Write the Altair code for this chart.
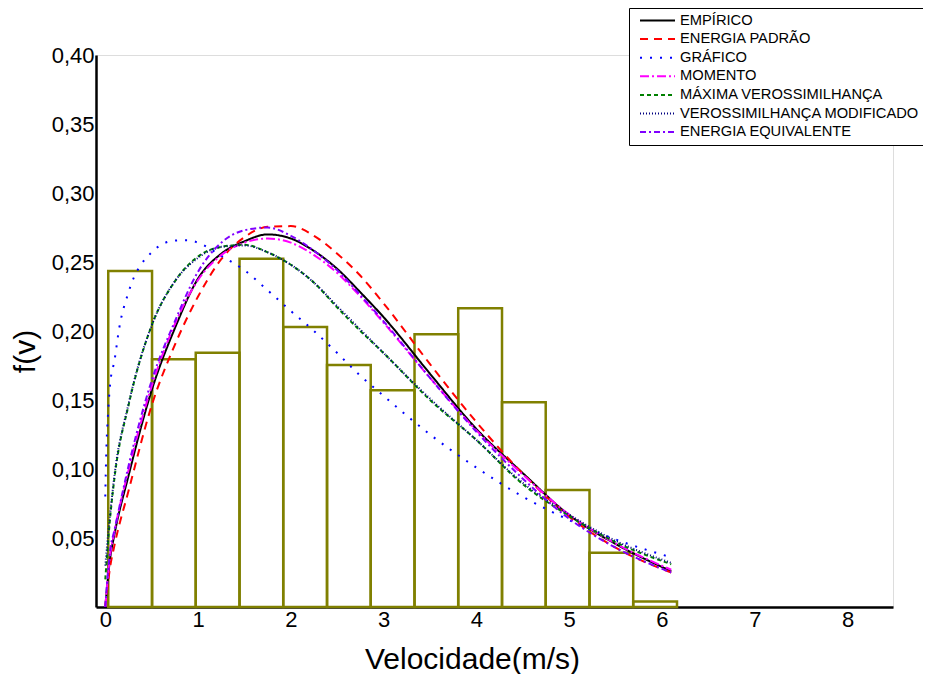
import altair as alt
import pandas as pd

# ---- data ----
names = ["EMPÍRICO", "ENERGIA PADRÃO", "GRÁFICO", "MOMENTO",
         "MÁXIMA VEROSSIMILHANÇA", "VEROSSIMILHANÇA MODIFICADO", "ENERGIA EQUIVALENTE"]
colors = ["#000000", "#FF0000", "#0000FF", "#FF00FF", "#008000", "#000080", "#8000FF"]
dashes = [[1, 0], [8, 6], [2, 8], [9, 3, 2, 3], [4, 3], [1, 2], [6, 3, 2, 3]]

grid_v = [0.0, 0.05, 0.1, 0.25, 0.5, 0.75, 1.0, 1.25, 1.5, 1.75, 2.0, 2.25, 2.5,
          2.75, 3.0, 3.5, 4.0, 4.5, 5.0, 5.5, 6.1]
empirico = [0.0, 0.034, 0.053, 0.095, 0.157, 0.202, 0.238, 0.256, 0.265, 0.270, 0.267,
            0.258, 0.245, 0.228, 0.210, 0.169, 0.129, 0.097, 0.0666, 0.0457, 0.026]
energia_padrao = [0.0, 0.028, 0.045, 0.084, 0.146, 0.190, 0.225, 0.252, 0.268, 0.2755, 0.276,
                  0.269, 0.256, 0.240, 0.220, 0.176, 0.134, 0.0966, 0.0655, 0.043, 0.025]
momento = [0.0, 0.036, 0.055, 0.099, 0.160, 0.205, 0.237, 0.255, 0.264, 0.267, 0.264,
           0.255, 0.242, 0.225, 0.206, 0.166, 0.128, 0.096, 0.067, 0.046, 0.027]
maxima_veros = [0.02, 0.063, 0.094, 0.146, 0.204, 0.236, 0.254, 0.261, 0.2625, 0.257, 0.248,
                0.235, 0.217, 0.200, 0.184, 0.150, 0.121, 0.089, 0.066, 0.047, 0.031]
veros_modificado = [0.03, 0.066, 0.096, 0.147, 0.204, 0.236, 0.253, 0.261, 0.262, 0.257, 0.248,
                    0.235, 0.218, 0.201, 0.184, 0.151, 0.121, 0.090, 0.067, 0.048, 0.032]
energia_equiv = [0.0, 0.040, 0.056, 0.102, 0.164, 0.207, 0.243, 0.264, 0.273, 0.275, 0.269,
                 0.258, 0.244, 0.226, 0.207, 0.166, 0.127, 0.093, 0.064, 0.043, 0.025]

grafico_v = [0.0, 0.01, 0.03, 0.05, 0.1, 0.15, 0.25, 0.5, 0.75, 0.9, 1.0, 1.25, 1.5, 1.75,
             2.0, 2.25, 2.5, 2.75, 3.0, 3.5, 4.0, 4.5, 5.0, 5.5, 6.1]
grafico = [0.08, 0.11, 0.14, 0.16, 0.179, 0.202, 0.228, 0.257, 0.2655, 0.2658, 0.264, 0.2545,
           0.244, 0.2295, 0.2145, 0.200, 0.184, 0.1675, 0.153, 0.125, 0.101, 0.080, 0.063,
           0.049, 0.036]

bin_left = [0.032, 0.504, 0.975, 1.447, 1.918, 2.390, 2.861, 3.333, 3.804, 4.276, 4.747,
            5.219, 5.690]
bin_right = [0.504, 0.975, 1.447, 1.918, 2.390, 2.861, 3.333, 3.804, 4.276, 4.747, 5.219,
             5.690, 6.162]
freq = [0.2435, 0.1795, 0.1843, 0.2524, 0.2029, 0.1754, 0.157, 0.1976, 0.2164, 0.1483,
        0.0848, 0.0394, 0.0039]

x_ticks = [0, 1, 2, 3, 4, 5, 6, 7, 8]
y_ticks = [0.05, 0.10, 0.15, 0.20, 0.25, 0.30, 0.35, 0.40]

# ---- tables ----
series = [
    (names[0], grid_v, empirico),
    (names[1], grid_v, energia_padrao),
    (names[2], grafico_v, grafico),
    (names[3], grid_v, momento),
    (names[4], grid_v, maxima_veros),
    (names[5], grid_v, veros_modificado),
    (names[6], grid_v, energia_equiv),
]
rows = []
for name, xs, ys in series:
    for xv, yv in zip(xs, ys):
        rows.append({"serie": name, "v": xv, "f": yv})
curves = pd.DataFrame(rows)
hist = pd.DataFrame({"x0": bin_left, "x1": bin_right, "h": freq})

FONT = "Liberation Sans"
xscale = alt.Scale(domain=[-0.1, 8.49], nice=False, zero=False)
yscale = alt.Scale(domain=[0, 0.40], nice=False)

xaxis = alt.Axis(title="Velocidade(m/s)", values=x_ticks, format="d", grid=False, ticks=False,
                 domainColor="black", domainWidth=2.5, labelFontSize=22, labelFont=FONT,
                 labelColor="black", labelPadding=2, labelFlush=False,
                 titleFontSize=30, titleFont=FONT, titleFontWeight="normal", titleColor="black",
                 titleX=376, titleY=61, titleBaseline="alphabetic")
yaxis = alt.Axis(title="f(v)", values=y_ticks,
                 labelExpr="replace(format(datum.value, '.2f'), '.', ',')",
                 grid=False, ticks=False, domainColor="black", domainWidth=2.5,
                 labelFontSize=22, labelFont=FONT, labelColor="black", labelPadding=2,
                 labelFlush=False,
                 titleFontSize=30, titleFont=FONT, titleFontWeight="normal", titleColor="black",
                 titleX=-62, titleY=296, titleBaseline="alphabetic", titleAngle=270)

legend = alt.Legend(title=None, orient="none", legendX=533, legendY=-47,
                    strokeColor="black", fillColor="white", padding=4,
                    symbolType="stroke", symbolSize=1225, symbolStrokeWidth=2,
                    symbolOffset=6, clipHeight=17, rowPadding=1.6,
                    labelFont=FONT, labelFontSize=14.7, labelColor="black",
                    labelOffset=4, labelLimit=400, cornerRadius=0)

bars = alt.Chart(hist).mark_rect(fill="white", fillOpacity=0, stroke="#808000",
                                 strokeWidth=2.5).encode(
    x=alt.X("x0:Q", scale=xscale, axis=xaxis),
    x2="x1:Q",
    y=alt.Y("h:Q", scale=yscale, axis=yaxis),
    y2=alt.datum(0),
)

lines = alt.Chart(curves).mark_line(strokeWidth=2, interpolate="monotone").encode(
    x=alt.X("v:Q", scale=xscale, axis=xaxis),
    y=alt.Y("f:Q", scale=yscale, axis=yaxis),
    color=alt.Color("serie:N", scale=alt.Scale(domain=names, range=colors), legend=legend),
    strokeDash=alt.StrokeDash("serie:N", scale=alt.Scale(domain=names, range=dashes),
                              legend=legend),
)

chart = alt.layer(bars, lines).properties(
    width=797, height=552,
    autosize=alt.AutoSizeParams(type="none"),
    padding={"left": 88, "top": 47, "right": 30, "bottom": 67},
).configure_view(stroke=None).configure(background="white")

chart.save("out.html", embed_options={"renderer": "svg", "actions": False})
